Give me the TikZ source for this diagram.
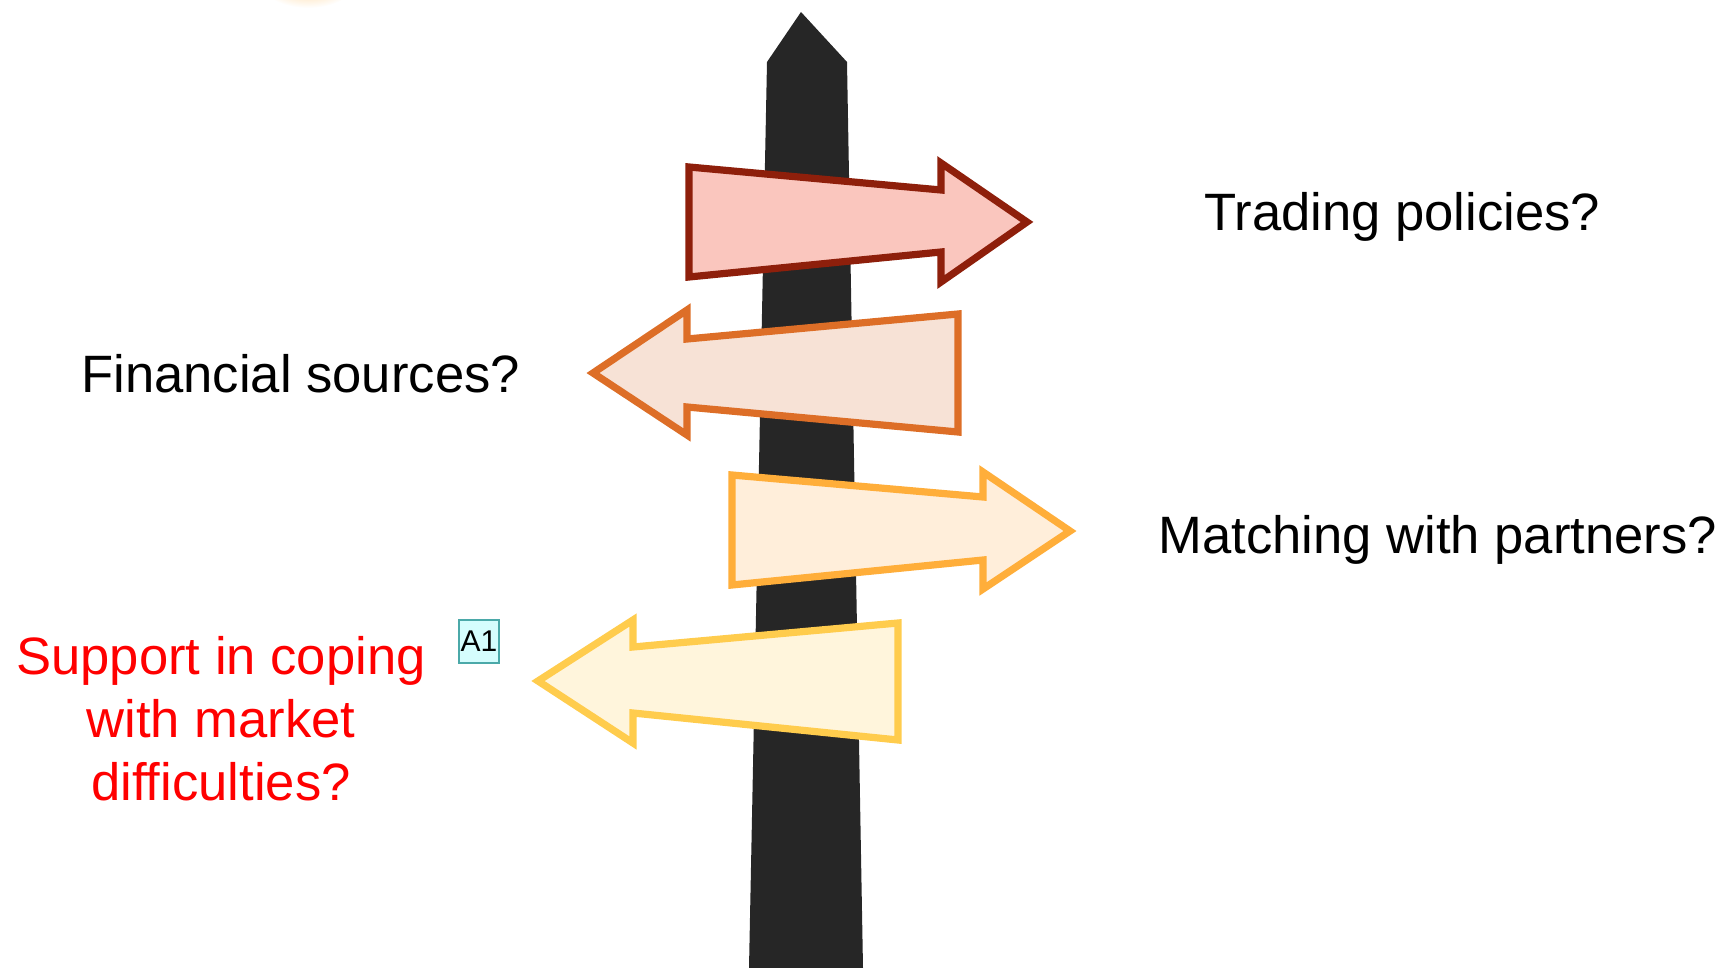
\documentclass[tikz,border=0pt]{standalone}
\usepackage{fontspec}
\setmainfont{Liberation Sans}
\usetikzlibrary{positioning}
\definecolor{sp-pole}{HTML}{262626}
\definecolor{sp-red}{HTML}{8E1F0B}
\definecolor{sp-redfill}{HTML}{FAC6BE}
\definecolor{sp-orange}{HTML}{DD6E27}
\definecolor{sp-orangefill}{HTML}{F7E2D6}
\definecolor{sp-amber}{HTML}{FFAE3A}
\definecolor{sp-amberfill}{HTML}{FFEEDA}
\definecolor{sp-yellow}{HTML}{FFCC4D}
\definecolor{sp-yellowfill}{HTML}{FFF5DC}
\definecolor{sp-note}{HTML}{D5FDFD}
\definecolor{sp-noteline}{HTML}{4BA9A9}
\definecolor{sp-glow}{HTML}{FFC878}
\tikzset{
  board/.style={line width=3.6pt, line join=miter},
  label/.style={font=\fontsize{26.3}{31.5}\selectfont, inner sep=0pt},
}

\begin{document}
\begin{tikzpicture}[x=0.5pt, y=-0.5pt]
      \useasboundingbox (0,0) rectangle (1725,968);
      \begin{scope}
        \clip (0,0) rectangle (1725,968);
        \shade[inner color=sp-glow, outer color=white] (308,-24) ellipse (52 and 32);
      \end{scope}
      \fill[sp-pole] (801,12) -- (847,62) -- (863,968) -- (749,968) -- (767,62) -- cycle;
      \filldraw[board, draw=sp-red, fill=sp-redfill] (689,167) -- (941,190) -- (941,163) -- (1027,222) -- (941,282) -- (941,252) -- (689,277) -- cycle;
      \filldraw[board, draw=sp-orange, fill=sp-orangefill] (958,314) -- (687,339) -- (687,310) -- (593,373) -- (687,435) -- (687,407) -- (958,432) -- cycle;
      \filldraw[board, draw=sp-amber, fill=sp-amberfill] (732,475) -- (983,497) -- (983,472) -- (1070,531) -- (983,589) -- (983,560) -- (732,585) -- cycle;
      \filldraw[board, draw=sp-yellow, fill=sp-yellowfill] (898,623) -- (633,647) -- (633,620) -- (538,681) -- (633,743) -- (633,713) -- (898,740) -- cycle;
      \node[label, anchor=base west] (trading) at (1204,231) {Trading policies?};
      \node[label, anchor=base west] (financial) at (81,393) {Financial sources?};
      \node[label, anchor=base west] (matching) at (1158,553) {Matching with partners?};
      \node[label, red, align=center, anchor=base] (support) at (221,800) {Support in coping\\with market\\difficulties?};
      \node[draw=sp-noteline, fill=sp-note, line width=0.6pt, inner sep=0pt,
            minimum width=20pt, minimum height=21.5pt, font=\fontsize{15}{17}\selectfont] (note) at (479,641.5) {A1};
    \end{tikzpicture}
\end{document}
